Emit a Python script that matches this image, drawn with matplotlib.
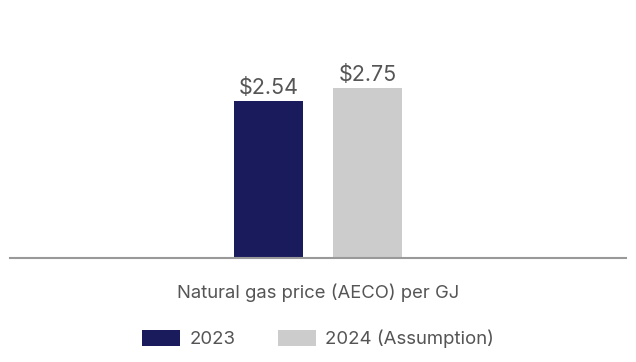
import matplotlib.pyplot as plt
from matplotlib.patches import Patch

# data
category = "Natural gas price (AECO) per GJ"
series = ["2023", "2024 (Assumption)"]
values = [2.54, 2.75]
colors = ["#191b5d", "#cccccc"]

plt.rcParams['font.family'] = ['Inter', 'DejaVu Sans']
TXT = "#555555"

fig = plt.figure(figsize=(6.36, 3.62), dpi=100)
ax = fig.add_axes([10/636, 1 - 258/362, 616/636, 247/362])

offsets = [-0.5, 0.5]
for off, v, c in zip(offsets, values, colors):
    ax.bar(off, v, width=0.7, color=c)
    ax.text(off, v + 0.05, f"${v:.2f}", ha="center", va="bottom",
            fontsize=15.5, color=TXT)

ax.set_xlim(-3.1, 3.1)
ax.set_ylim(0, 4)
for s in ["top", "right", "left"]:
    ax.spines[s].set_visible(False)
ax.spines["bottom"].set_color("#999999")
ax.spines["bottom"].set_linewidth(1.5)
ax.set_yticks([])
ax.set_xticks([0])
ax.set_xticklabels([category], fontsize=13.3, color=TXT)
ax.tick_params(axis="x", length=0, pad=18)

handles = [Patch(facecolor=c, edgecolor="none") for c in colors]
fig.legend(handles, series, loc="center", bbox_to_anchor=(318/636, 1 - 339/362),
           ncol=2, frameon=False, fontsize=13.4, labelcolor=TXT,
           handlelength=2.05, handleheight=0.95, handletextpad=0.5, columnspacing=2.3)

fig.savefig("out.png", dpi=100)
